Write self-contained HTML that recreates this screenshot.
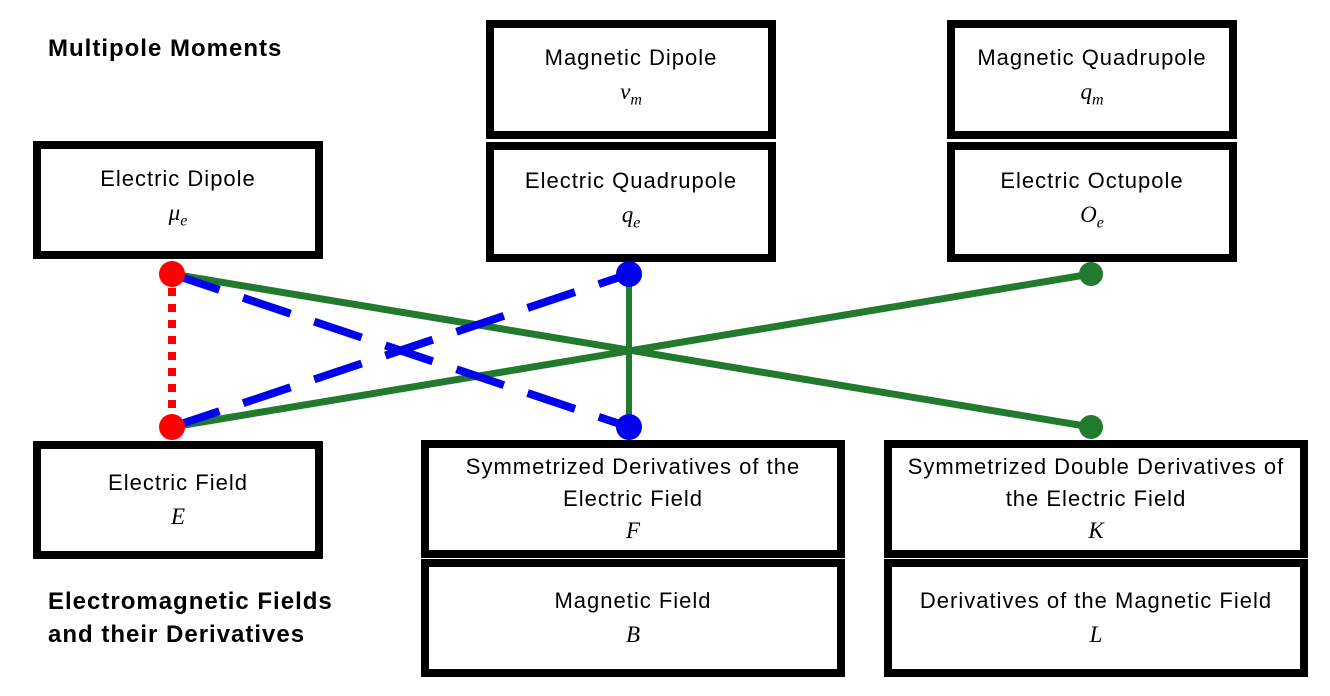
<!DOCTYPE html>
<html><head><style>
body{margin:0;width:1330px;height:696px;background:#fff;position:relative;overflow:hidden;font-family:"Liberation Sans",sans-serif}
.b{position:absolute;box-sizing:border-box;border:8px solid #000;background:#fff;text-align:center;font-size:22px;letter-spacing:1px;color:#000;display:flex;flex-direction:column;justify-content:center;line-height:34px}
.m{font-family:"Liberation Serif",serif;font-style:italic;font-size:23px;letter-spacing:0}
.m sub{font-size:16px}
.t{position:absolute;font-weight:bold;font-size:24px;letter-spacing:1px;left:48px;line-height:33px}
svg{position:absolute;left:0;top:0}
</style></head><body>
<div class="t" style="top:32px">Multipole Moments</div>
<div class="t" style="top:585px">Electromagnetic Fields<br>and their Derivatives</div>
<div class="b" style="left:486px;top:20px;width:290px;height:119px">Magnetic Dipole<span class="m">ν<sub>m</sub></span></div>
<div class="b" style="left:486px;top:142px;width:290px;height:120px">Electric Quadrupole<span class="m">q<sub>e</sub></span></div>
<div class="b" style="left:947px;top:20px;width:290px;height:119px">Magnetic Quadrupole<span class="m">q<sub>m</sub></span></div>
<div class="b" style="left:947px;top:142px;width:290px;height:120px">Electric Octupole<span class="m">O<sub>e</sub></span></div>
<div class="b" style="left:33px;top:141px;width:290px;height:118px">Electric Dipole<span class="m">μ<sub>e</sub></span></div>
<div class="b" style="left:33px;top:441px;width:290px;height:118px">Electric Field<span class="m">E</span></div>
<div class="b" style="left:421px;top:440px;width:424px;height:118px;line-height:32px">Symmetrized Derivatives of the<br>Electric Field<span class="m">F</span></div>
<div class="b" style="left:421px;top:559px;width:424px;height:118px">Magnetic Field<span class="m">B</span></div>
<div class="b" style="left:884px;top:440px;width:424px;height:118px;line-height:32px">Symmetrized Double Derivatives of<br>the Electric Field<span class="m">K</span></div>
<div class="b" style="left:884px;top:559px;width:424px;height:118px">Derivatives of the Magnetic Field<span class="m">L</span></div>
<svg width="1330" height="696">
<line x1="172" y1="274" x2="1091" y2="427" stroke="#217a2e" stroke-width="7"/>
<line x1="172" y1="427" x2="1091" y2="274" stroke="#217a2e" stroke-width="7"/>
<line x1="629" y1="274" x2="629" y2="427" stroke="#217a2e" stroke-width="6"/>
<line x1="172" y1="274" x2="629" y2="427" stroke="#0000ee" stroke-width="8" stroke-dasharray="50,25"/>
<line x1="172" y1="427" x2="629" y2="274" stroke="#0000ee" stroke-width="8" stroke-dasharray="50,25"/>
<line x1="172" y1="288" x2="172" y2="416" stroke="#ff0000" stroke-width="8" stroke-dasharray="8,8"/>
<circle cx="172" cy="274" r="13" fill="#ff0000"/>
<circle cx="172" cy="427" r="13" fill="#ff0000"/>
<circle cx="629" cy="274" r="13" fill="#0000ee"/>
<circle cx="629" cy="427" r="13" fill="#0000ee"/>
<circle cx="1091" cy="274" r="12" fill="#217a2e"/>
<circle cx="1091" cy="427" r="12" fill="#217a2e"/>
</svg>
</body></html>
